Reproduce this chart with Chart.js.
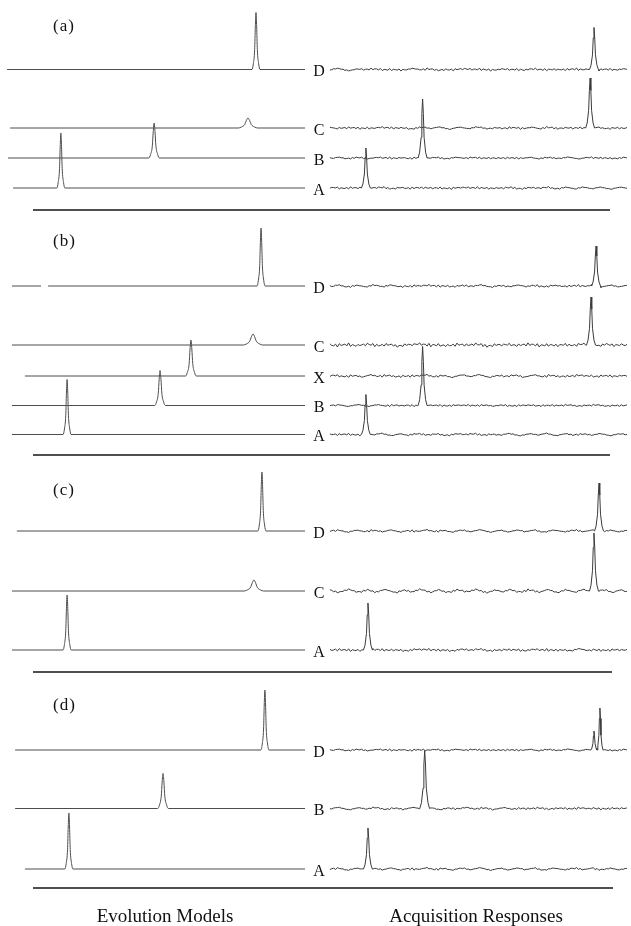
<!DOCTYPE html>
<html>
<head>
<meta charset="utf-8">
<script src="https://cdn.jsdelivr.net/npm/chart.js@4.4.0/dist/chart.umd.min.js"></script>
<style>
  html, body { margin: 0; padding: 0; background: #fff; }
  #wrap { width: 631px; height: 926px; }
</style>
</head>
<body>
<div id="wrap"><canvas id="fig" width="631" height="926"></canvas></div>
<script>
// Each half of the figure is one spectrum, 0..100 spectral points wide.
const panelTags = ['(a)', '(b)', '(c)', '(d)'];
const rowNames = [
  ['D', 'C', 'B', 'A'],
  ['D', 'C', 'X', 'B', 'A'],
  ['D', 'C', 'A'],
  ['D', 'B', 'A']
];

// evolution models: peaks as [position, height, half width], one list per row
const modelPeaksA = [[[83.5, 57, 0.45]], [[80.8, 10, 1.1]], [[49.2, 35, 0.6]], [[17.8, 55, 0.45]]];
const modelPeaksB = [[[85.2, 58, 0.45]], [[82.5, 11, 1.1]], [[61.6, 36, 0.6]], [[51.2, 35, 0.6]], [[19.9, 55, 0.45]]];
const modelPeaksC = [[[85.5, 59, 0.45]], [[82.8, 11, 1.1]], [[19.9, 55, 0.45]]];
const modelPeaksD = [[[86.5, 60, 0.45]], [[52.2, 35, 0.6]], [[20.5, 56, 0.45]]];

// first recorded point of each model trace
const modelStartA = [-0.3, 0.7, 0, 1.7];
const modelStartB = [1.35, 1.35, 5.7, 1.35, 1.35];
const modelStartC = [3.0, 1.35, 1.35];
const modelStartD = [2.4, 2.4, 5.7];
// dropout in the (b) D model trace
const modelGapB = [[11.1, 13.5], null, null, null, null];

// acquisition responses: peaks as [position, height, half width]
const responsePeaksA = [[[88.9, 42, 0.5]], [[87.6, 50, 0.5]], [[31.2, 59, 0.5]], [[12.1, 40, 0.5]]];
const responsePeaksB = [[[89.6, 40, 0.5]], [[87.9, 48, 0.5]], [], [[31.2, 59, 0.5]], [[12.1, 40, 0.5]]];
const responsePeaksC = [[[90.6, 48, 0.5]], [[88.9, 58, 0.5]], [[12.8, 47, 0.5]]];
const responsePeaksD = [[[88.9, 19, 0.35], [90.9, 42, 0.35]], [[31.9, 58, 0.55]], [[12.8, 41, 0.5]]];

// baseline noise of the responses, 80 samples each; a trace interleaves two of them
const noiseA = [0.3,-0.4,0.6,0.1,-0.8,-0.2,0.5,0.9,0.1,-0.6,-1.0,-0.1,0.4,0.2,-0.3,0.6,1.1,0.3,-0.5,-0.1,
  0.4,-0.7,-1.2,-0.3,0.2,0.8,0.1,-0.2,0.5,1.0,0.4,-0.5,-0.9,0.0,0.6,0.3,-0.3,-0.8,0.1,0.7,
  1.0,0.2,-0.4,-0.7,0.1,0.5,-0.2,-1.0,-0.4,0.3,0.8,0.4,-0.2,0.2,0.7,-0.3,-1.1,-0.6,0.2,0.9,
  0.5,-0.1,-0.5,0.1,0.8,0.2,-0.4,-0.9,-0.2,0.4,1.2,0.6,-0.3,-0.7,0.0,0.5,-0.2,-0.9,-0.4,0.5];
const noiseB = [-0.5,0.8,1.3,0.2,-0.9,-1.4,-0.3,0.6,0.1,-0.7,0.4,1.5,0.7,-0.4,-1.1,-0.2,0.9,0.3,-0.6,-1.5,
  -0.4,0.5,1.2,0.4,-0.3,0.7,1.6,0.5,-0.8,-1.2,0.1,0.6,-0.5,-1.3,-0.2,0.9,1.1,0.0,-0.6,0.3,
  1.4,0.6,-0.7,-1.6,-0.5,0.4,0.9,-0.1,-0.8,0.2,1.0,0.3,-1.0,-0.4,0.6,1.3,0.2,-0.9,-1.2,0.1,
  0.8,0.4,-0.3,-1.1,-0.5,0.7,1.5,0.6,-0.4,0.1,0.9,-0.6,-1.4,-0.3,0.5,1.1,0.2,-0.7,0.0,0.6];
const noiseC = [0.7,0.1,-0.9,-0.4,0.5,1.2,0.3,-0.6,-1.3,-0.2,0.8,0.2,-0.4,0.6,1.4,0.5,-0.5,-1.0,0.1,0.7,
  -0.3,-1.2,-0.6,0.4,1.1,0.8,-0.2,-0.8,0.3,1.0,0.1,-0.7,-1.5,-0.3,0.6,0.9,0.0,-0.5,0.4,1.3,
  0.6,-0.4,-1.1,-0.2,0.5,-0.1,-0.9,0.2,1.2,0.7,-0.3,-1.4,-0.7,0.3,0.8,0.2,-0.6,0.5,1.5,0.4,
  -0.8,-1.2,0.0,0.6,-0.2,-1.0,0.3,1.1,0.5,-0.4,-0.9,0.2,1.0,0.3,-0.5,-1.3,-0.1,0.7,0.4,-0.3];
const noiseD = [1.2,-0.8,-2.0,-0.5,1.0,2.1,0.4,-1.3,-0.6,0.9,1.8,-0.2,-1.7,-0.9,0.6,1.5,0.3,-1.1,-2.1,-0.4,
  1.1,0.7,-0.6,0.8,2.2,0.9,-1.0,-1.8,0.2,1.4,-0.3,-1.6,-0.7,0.8,1.9,0.5,-1.2,-0.5,1.0,2.0,
  0.1,-1.5,-2.2,-0.3,1.2,0.6,-0.8,0.4,1.7,0.2,-1.4,-0.6,0.9,2.1,0.8,-0.9,-1.9,-0.1,1.3,0.5,
  -1.0,-1.7,0.3,1.6,0.7,-0.6,-1.3,0.5,1.9,0.4,-1.1,-2.0,-0.2,1.0,1.6,-0.4,-1.5,0.2,1.2,-0.6];
const noiseE = [-0.2,0.5,0.9,0.3,-0.4,-0.9,-0.3,0.4,0.8,0.2,-0.5,-0.2,0.6,1.0,0.1,-0.7,-1.1,-0.2,0.5,0.2,
  -0.4,0.3,0.9,0.5,-0.3,-0.8,0.0,0.6,0.2,-0.6,-1.0,-0.3,0.4,0.8,0.3,-0.2,0.5,1.1,0.4,-0.5,
  -0.9,-0.1,0.6,0.1,-0.7,-0.3,0.4,0.9,0.2,-0.6,-1.1,-0.4,0.3,0.7,0.0,-0.5,0.2,0.8,0.3,-0.4,
  -0.8,-0.2,0.5,1.0,0.4,-0.3,-0.9,-0.1,0.6,0.2,-0.5,0.1,0.7,0.3,-0.6,-1.0,-0.2,0.4,0.8,0.1];

const xTitles = ['Evolution Models', 'Acquisition Responses'];

// ---- layout (pixels on the 631 x 926 page) ----
const baselines = [
  [69.5, 128, 158, 188],
  [286, 345, 376, 405.5, 434.5],
  [531, 591, 650],
  [750, 808.5, 869]
];
const noiseRows = [
  [[noiseB, noiseE], [noiseC, noiseA], [noiseA, noiseE], [noiseE, noiseC]],
  [[noiseA, noiseB], [noiseD, noiseB], [noiseB, noiseC], [noiseE, noiseA], [noiseC, noiseE]],
  [[noiseB, noiseA], [noiseD, noiseC], [noiseC, noiseB]],
  [[noiseA, noiseE], [noiseE, noiseB], [noiseB, noiseA]]
];
const tagBaseline = [30.5, 245.5, 494.5, 709.5];
const ruleY = [210, 455, 672, 888];
const ruleEnd = [610, 610, 612, 613];
const PX_PER_POINT = 2.97;
const LEFT_PX = 8;          // spectral point 0 of the left half
const RIGHT_OFFSET = 108.4; // right half starts this many points further on

const modelPeaks = [modelPeaksA, modelPeaksB, modelPeaksC, modelPeaksD];
const modelStart = [modelStartA, modelStartB, modelStartC, modelStartD];
const modelGaps = [null, modelGapB, null, null];
const responsePeaks = [responsePeaksA, responsePeaksB, responsePeaksC, responsePeaksD];

// line shape drawn around each peak maximum, offsets in half widths
const shapeAt = [-3, -2, -1, -0.5, 0, 0.5, 1, 2, 3];
const shapeFrac = [0, 0.1, 0.35, 0.75, 1, 0.75, 0.35, 0.1, 0];

function peakPoints(peak) {
  const [pos, h, w] = peak;
  return shapeAt.map((o, k) => ({ x: pos + o * w, v: h * shapeFrac[k] }));
}

function modelTrace(p, r) {
  let pts = [{ x: modelStart[p][r], v: 0 }, { x: 100, v: 0 }];
  modelPeaks[p][r].forEach(pk => { pts = pts.concat(peakPoints(pk)); });
  const gap = modelGaps[p] && modelGaps[p][r];
  if (gap) pts.push({ x: gap[0], v: 0 }, { x: (gap[0] + gap[1]) / 2, v: null }, { x: gap[1], v: 0 });
  pts.sort((a, b) => a.x - b.x);
  return pts.map(q => ({ x: q.x, y: q.v === null ? null : baselines[p][r] - q.v }));
}

function responseTrace(p, r) {
  const [even, odd] = noiseRows[p][r];
  const samples = [];
  even.forEach((n, i) => { samples.push(n); if (i < odd.length) samples.push(odd[i]); });
  const peaks = responsePeaks[p][r];
  const step = 100 / (samples.length - 1);
  let pts = [];
  samples.forEach((n, i) => {
    const x = i * step;
    if (!peaks.some(pk => Math.abs(x - pk[0]) < 3 * pk[2])) pts.push({ x, v: n });
  });
  peaks.forEach(pk => { pts = pts.concat(peakPoints(pk)); });
  pts.sort((a, b) => a.x - b.x);
  return pts.map(q => ({ x: RIGHT_OFFSET + q.x, y: baselines[p][r] - q.v }));
}

const datasets = [];
rowNames.forEach((rows, p) => {
  rows.forEach((name, r) => {
    datasets.push({
      label: panelTags[p] + ' ' + name + ' model',
      data: modelTrace(p, r),
      borderColor: '#4d4d4d',
      borderWidth: 1,
      cubicInterpolationMode: 'monotone',
      pointRadius: 0
    });
    datasets.push({
      label: panelTags[p] + ' ' + name + ' response',
      data: responseTrace(p, r),
      borderColor: '#3a3a3a',
      borderWidth: 1,
      tension: 0,
      pointRadius: 0
    });
  });
});

// row letters, panel tags, separating rules and the two captions
const figureText = {
  id: 'figureText',
  afterDraw(chart) {
    const ctx = chart.ctx;
    ctx.save();
    ctx.fillStyle = '#111';
    ctx.strokeStyle = '#151515';
    ctx.textBaseline = 'alphabetic';
    rowNames.forEach((rows, p) => {
      ctx.font = '16px "Liberation Serif"';
      ctx.textAlign = 'center';
      rows.forEach((name, r) => ctx.fillText(name, 319, baselines[p][r] + 6.5));
      ctx.font = '17px "Liberation Serif"';
      ctx.textAlign = 'left';
      ctx.letterSpacing = '1px';
      ctx.fillText(panelTags[p], 53, tagBaseline[p]);
      ctx.letterSpacing = '0px';
      ctx.lineWidth = 1.6;
      ctx.beginPath();
      ctx.moveTo(33, ruleY[p]);
      ctx.lineTo(ruleEnd[p], ruleY[p]);
      ctx.stroke();
    });
    ctx.font = '19px "Liberation Serif"';
    ctx.textAlign = 'center';
    ctx.fillText(xTitles[0], 165, 921.5);
    ctx.fillText(xTitles[1], 476, 921.5);
    ctx.restore();
  }
};

new Chart(document.getElementById('fig'), {
  type: 'line',
  data: { datasets },
  options: {
    responsive: false,
    animation: false,
    devicePixelRatio: 1,
    layout: { padding: 0 },
    plugins: { legend: { display: false }, tooltip: { enabled: false } },
    scales: {
      x: {
        type: 'linear',
        display: false,
        min: -LEFT_PX / PX_PER_POINT,
        max: (631 - LEFT_PX) / PX_PER_POINT
      },
      y: { type: 'linear', display: false, min: 0, max: 926, reverse: true }
    }
  },
  plugins: [figureText]
});
</script>
</body>
</html>
